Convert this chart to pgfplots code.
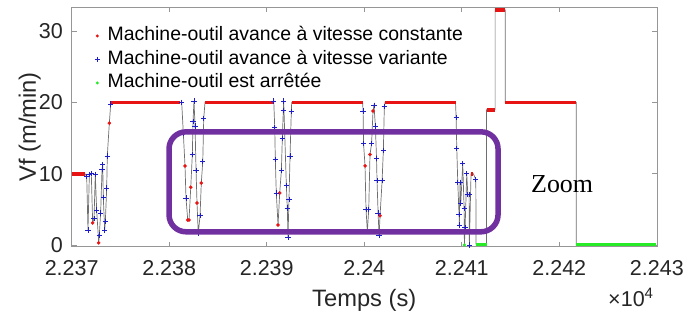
\documentclass[border=0pt]{standalone}
\usepackage{fontspec}
\setmainfont{Liberation Sans}
\newfontfamily\timesfont{Liberation Serif}
\usepackage{pgfplots}
\pgfplotsset{compat=1.18}
\definecolor{mred}{RGB}{232,20,20}
\definecolor{mblue}{RGB}{30,30,200}
\definecolor{mgreen}{RGB}{40,235,40}
\definecolor{mpurple}{RGB}{112,48,160}
\definecolor{axgray}{RGB}{150,150,150}
\definecolor{txt}{RGB}{38,38,38}
\definecolor{lgray}{RGB}{110,110,110}
\pgfplotsset{mylegend/.style={legend image code/.code={\path (-20bp,0bp) (7.5bp,0bp); \draw[##1] plot coordinates {(0bp,0bp)};}}}
\begin{document}
\begin{tikzpicture}
\begin{axis}[
  name=ax,
  scale only axis,
  width=585.1bp, height=239.7bp,
  xmin=22370, xmax=22430,
  ymin=-0.24, ymax=33.4,
  clip mode=individual,
  xtick={22370,22380,22390,22400,22410,22420,22430},
  xticklabels={2.237,2.238,2.239,2.24,2.241,2.242,2.243},
  ytick={0,10,20,30},
  yticklabels={0,10,20,30},
  scaled x ticks=false, scaled y ticks=false,
  tick align=inside,
  major tick length=5bp,
  axis line style={axgray, line width=0.6bp},
  tick style={axgray, line width=0.6bp},
  ticklabel style={font=\fontsize{21.6}{24}\selectfont, text=txt},
  xticklabel style={anchor=base, yshift=-29bp},
  yticklabel style={anchor=east, inner sep=0pt, xshift=-8.7bp},
  xlabel={Temps (s)},
  ylabel={Vf (m/min)},
  xlabel style={font=\fontsize{23.8}{26}\selectfont, text=txt, at={(rel axis cs:0.5,0)}, anchor=base, yshift=-59.3bp},
  ylabel style={font=\fontsize{23.8}{26}\selectfont, text=txt, at={([xshift=-35.7bp]rel axis cs:0,0.5)}, anchor=base},
  legend style={at={(rel axis cs:0,1)}, anchor=north west, xshift=2bp, yshift=-15bp,
    draw=none, fill=none, font=\fontsize{19.5}{22}\selectfont,
    nodes={text height=14bp, text depth=4.5bp, inner sep=2.5bp}},
  legend cell align=left,
]
\addlegendimage{only marks, mark=*, mark size=1.3bp, color=mred, mark options={draw=mred, fill=mred}, mylegend}
\addlegendentry{Machine-outil avance à vitesse constante}
\addlegendimage{only marks, mark=+, mark size=2.6bp, color=mblue, line width=0.8bp, mark options={draw=mblue}, mylegend}
\addlegendentry{Machine-outil avance à vitesse variante}
\addlegendimage{only marks, mark=*, mark size=1.3bp, color=mgreen, mark options={draw=mgreen, fill=mgreen}, mylegend}
\addlegendentry{Machine-outil est arrêtée}

% gray connecting line (full time series)
\addplot[lgray, line width=0.7bp, forget plot] coordinates {
(22370.00,10) (22371.36,10) (22371.54,9.6) (22371.67,2.1) (22371.81,9.9) (22372.01,10.0)
(22372.15,3.1) (22372.29,3.7) (22372.42,9.9) (22372.56,4.9) (22372.77,0.3) (22372.83,1.4)
(22372.97,4.5) (22373.11,10.6) (22373.18,11.3) (22373.24,6.7) (22373.38,2.1) (22373.45,3.3)
(22373.59,8.0) (22373.65,12.5) (22373.86,17.1) (22374.00,19.8) (22374.03,20) (22381.11,20)
(22381.28,20.0) (22381.45,15.6) (22381.62,11.1) (22381.72,6.6) (22381.90,3.5) (22382.03,3.5)
(22382.21,8.1) (22382.37,12.7) (22382.44,17.3) (22382.54,20.2) (22382.65,16.7) (22382.75,10.5)
(22382.85,5.9) (22382.98,1.6) (22383.16,4.1) (22383.29,8.7) (22383.44,11.7) (22383.54,17.8)
(22383.67,20) (22390.65,20)
(22390.72,20.2) (22390.82,16.5) (22390.88,12.0) (22390.98,7.3) (22391.16,2.8) (22391.33,7.3)
(22391.50,10.4) (22391.60,15.0) (22391.70,18.9) (22391.74,20.2) (22392.01,8.4) (22392.11,5.2)
(22392.18,1.0) (22392.28,6.4) (22392.39,12.5) (22392.52,18.7) (22392.56,20) (22399.83,20)
(22399.88,18.8) (22399.93,14.2) (22400.08,11.1) (22400.18,5.0) (22400.32,1.9) (22400.46,5.0)
(22400.59,12.7) (22400.75,14.2) (22400.90,18.8) (22401.00,19.6) (22401.14,16.7) (22401.26,12.1)
(22401.31,9.0) (22401.42,4.5) (22401.52,1.3) (22401.62,4.1) (22401.83,9.0) (22401.96,13.3)
(22402.06,19.4) (22402.13,20) (22409.36,20)
(22409.42,17.9) (22409.49,13.5) (22409.59,8.8) (22409.72,4.3) (22409.75,2.8) (22409.83,8.8)
(22409.90,5.9) (22410.10,11.4) (22410.24,5.1) (22410.27,0) (22410.34,2.4) (22410.51,10.0)
(22410.62,7.1) (22410.75,7.1) (22410.78,0) (22410.95,10) (22411.19,10) (22411.44,9.2)
(22411.47,0) (22412.54,0) (22412.54,19) (22413.42,19) (22413.42,33) (22414.45,33)
(22414.45,20) (22421.73,20) (22421.73,0) (22429.93,0)
};

% constant-speed samples (dense runs drawn as thick segments)
\addplot[mred, line width=3.8bp, forget plot, unbounded coords=jump] coordinates {
(22370.00,10) (22371.36,10) (22371.40,nan)
(22374.03,20) (22381.11,20) (22381.15,nan)
(22383.67,20) (22390.65,20) (22390.70,nan)
(22392.56,20) (22399.83,20) (22399.86,nan)
(22402.13,20) (22409.36,20) (22409.40,nan)
(22410.95,10) (22411.19,10) (22411.22,nan)
(22412.54,19) (22413.42,19) (22413.43,nan)
(22413.42,33) (22414.45,33) (22414.46,nan)
(22414.45,20) (22421.73,20)
};
\addplot[only marks, mark=*, mark size=1.6bp, mred, forget plot] coordinates {
(22372.15,3.1) (22372.77,0.3) (22373.86,17.1)
(22381.62,11.1) (22381.90,3.5) (22382.03,3.5) (22382.21,8.1) (22382.85,5.9) (22383.29,8.7)
(22391.16,2.8) (22391.33,7.3)
(22400.08,11.1) (22400.59,12.7) (22400.90,18.8) (22401.62,4.1)
};

% stopped
\addplot[mgreen, line width=3bp, forget plot, unbounded coords=jump] coordinates {
(22411.47,0) (22412.54,0) (22412.60,nan)
(22421.73,0) (22429.93,0)
};
\addplot[only marks, mark=*, mark size=1.4bp, mgreen, forget plot] coordinates {(22410.27,0)};

% variable speed
\addplot[only marks, mark=+, mark size=2.6bp, mblue, line width=0.8bp, forget plot] coordinates {
(22371.54,9.6) (22371.67,2.1) (22371.81,9.9) (22372.01,10.0) (22372.29,3.7) (22372.42,9.9)
(22372.56,4.9) (22372.83,1.4) (22372.97,4.5) (22373.11,10.6) (22373.18,11.3) (22373.24,6.7)
(22373.38,2.1) (22373.45,3.3) (22373.59,8.0) (22373.65,12.5) (22374.00,19.8)
(22381.28,20.0) (22381.45,15.6) (22381.72,6.6) (22382.37,12.7) (22382.44,17.3) (22382.54,20.2)
(22382.65,16.7) (22382.75,10.5) (22382.98,1.6) (22383.16,4.1) (22383.44,11.7) (22383.54,17.8)
(22390.72,20.2) (22390.82,16.5) (22390.88,12.0) (22390.98,7.3) (22391.50,10.4) (22391.60,15.0)
(22391.70,18.9) (22391.74,20.2) (22392.01,8.4) (22392.11,5.2) (22392.18,1.0) (22392.28,6.4)
(22392.39,12.5) (22392.52,18.7)
(22399.88,18.8) (22399.93,14.2) (22400.18,5.0) (22400.32,1.9) (22400.46,5.0) (22400.75,14.2)
(22401.00,19.6) (22401.14,16.7) (22401.26,12.1) (22401.31,9.0) (22401.42,4.5) (22401.52,1.3)
(22401.83,9.0) (22401.96,13.3) (22402.06,19.4)
(22409.42,17.9) (22409.49,13.5) (22409.59,8.8) (22409.72,4.3) (22409.75,2.8) (22409.83,8.8)
(22409.90,5.9) (22410.10,11.4) (22410.24,5.1) (22410.34,2.4) (22410.51,10.0) (22410.62,7.1)
(22410.75,7.1) (22410.78,0) (22411.44,9.2)
};

% zoom annotation
\draw[mpurple, line width=5.5bp, rounded corners=17bp] (axis cs:22379.98,1.85) rectangle (axis cs:22413.72,15.88);
\node[font=\timesfont\fontsize{26}{28}\selectfont, anchor=base, text=black] at (axis cs:22420.29,7.3) {Zoom};
\end{axis}
\node[anchor=base east, font=\fontsize{21.6}{24}\selectfont, text=txt, inner sep=0pt] at ([xshift=-3bp,yshift=-59.3bp]ax.south east) {×10\textsuperscript{4}};
\path ([shift={(-71.7bp,-69.3bp)}]ax.south west) rectangle ([shift={(42.2bp,7bp)}]ax.north east);
\end{tikzpicture}
\end{document}
